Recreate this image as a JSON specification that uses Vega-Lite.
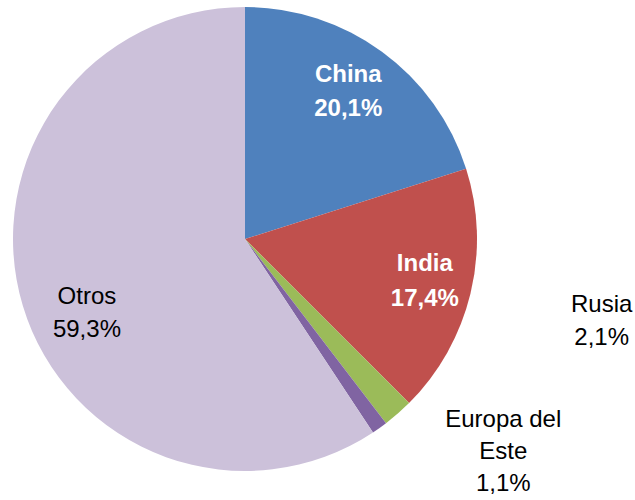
{
  "$schema": "https://vega.github.io/schema/vega-lite/v6.json",
  "autosize": "none",
  "width": 490,
  "height": 478,
  "padding": {"left": 0, "top": 0, "right": 145, "bottom": 22},
  "background": "white",
  "config": {"view": {"stroke": null}},
  "data": {
    "values": [
      {"orden": 1, "pais": "China", "valor": 20.1, "etiqueta": "China\n20,1%"},
      {"orden": 2, "pais": "India", "valor": 17.4, "etiqueta": "India\n17,4%"},
      {"orden": 3, "pais": "Rusia", "valor": 2.1, "etiqueta": "Rusia\n2,1%"},
      {"orden": 4, "pais": "Europa del Este", "valor": 1.1, "etiqueta": "Europa del\nEste\n1,1%"},
      {"orden": 5, "pais": "Otros", "valor": 59.3, "etiqueta": "Otros\n59,3%"}
    ]
  },
  "encoding": {
    "theta": {"field": "valor", "type": "quantitative", "stack": true},
    "order": {"field": "orden", "type": "quantitative"}
  },
  "layer": [
    {
      "mark": {"type": "arc", "outerRadius": 232},
      "encoding": {
        "color": {
          "field": "pais",
          "type": "nominal",
          "scale": {
            "domain": ["China", "India", "Rusia", "Europa del Este", "Otros"],
            "range": ["#4F81BD", "#C0504D", "#9BBB59", "#8064A2", "#CCC1DA"]
          },
          "legend": null
        }
      }
    },
    {
      "mark": {"type": "text", "radius": 180, "dx": -3, "dy": -19, "font": "Liberation Sans", "fontSize": 24, "fontWeight": "bold", "fill": "white", "lineBreak": "\n", "lineHeight": 34, "align": "center", "baseline": "middle", "letterSpacing": -0.6},
      "encoding": {
        "text": {"condition": {"test": "datum.pais === 'China'", "field": "etiqueta"}, "value": ""}
      }
    },
    {
      "mark": {"type": "text", "radius": 183, "dx": 2, "dy": -18, "font": "Liberation Sans", "fontSize": 24, "fontWeight": "bold", "fill": "white", "lineBreak": "\n", "lineHeight": 35, "align": "center", "baseline": "middle", "letterSpacing": -0.6},
      "encoding": {
        "text": {"condition": {"test": "datum.pais === 'India'", "field": "etiqueta"}, "value": ""}
      }
    },
    {
      "mark": {"type": "text", "radius": 164, "dx": -1, "dy": 11, "font": "Liberation Sans", "fontSize": 24, "fill": "black", "lineBreak": "\n", "lineHeight": 33, "align": "center", "baseline": "middle", "letterSpacing": -0.6},
      "encoding": {
        "text": {"condition": {"test": "datum.pais === 'Otros'", "field": "etiqueta"}, "value": ""}
      }
    },
    {
      "mark": {"type": "text", "radius": 300, "dx": 159, "dy": -160, "font": "Liberation Sans", "fontSize": 24, "fill": "black", "lineBreak": "\n", "lineHeight": 33, "align": "center", "baseline": "middle", "letterSpacing": -0.6},
      "encoding": {
        "text": {"condition": {"test": "datum.pais === 'Rusia'", "field": "etiqueta"}, "value": ""}
      }
    },
    {
      "mark": {"type": "text", "radius": 290, "dx": 90, "dy": -55, "font": "Liberation Sans", "fontSize": 24, "fill": "black", "lineBreak": "\n", "lineHeight": 32, "align": "center", "baseline": "middle", "letterSpacing": -0.6},
      "encoding": {
        "text": {"condition": {"test": "datum.pais === 'Europa del Este'", "field": "etiqueta"}, "value": ""}
      }
    }
  ]
}
